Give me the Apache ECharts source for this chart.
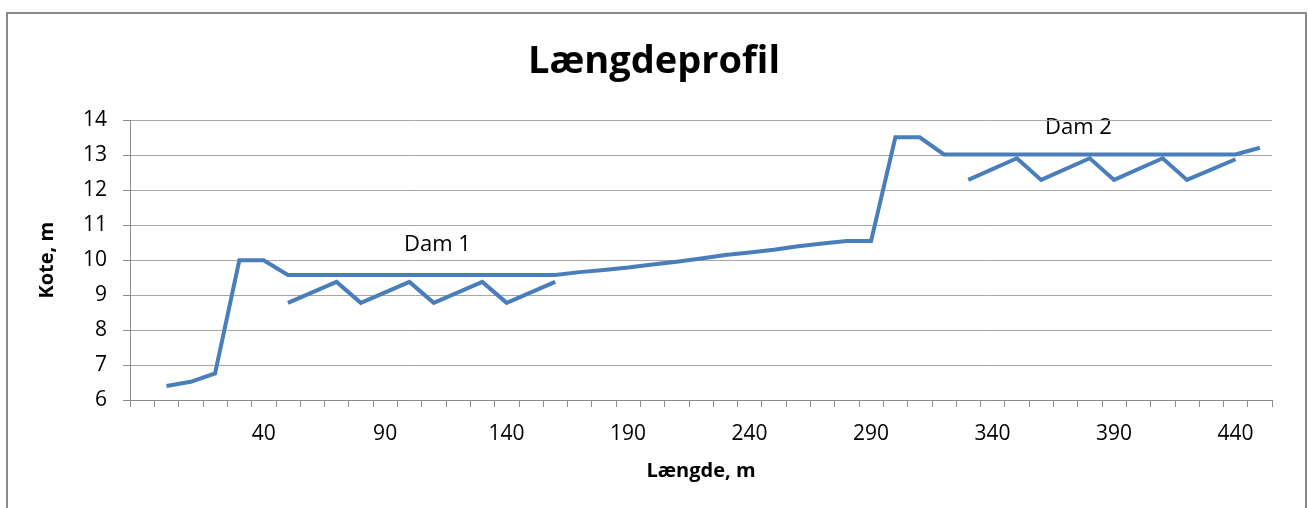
<!DOCTYPE html>
<html>
<head>
<meta charset="utf-8">
<script src="https://cdn.jsdelivr.net/npm/echarts@6/dist/echarts.min.js"></script>
<style>html,body{margin:0;padding:0;background:#fff;}#c{width:1308px;height:508px;}</style>
</head>
<body>
<div id="c"></div>
<script>
// Distance along profile (m); first category is an empty slot
var categories = ['', 0, 10, 20, 30, 40, 50, 60, 70, 80, 90, 100, 110, 120, 130, 140, 150, 160, 170, 180, 190, 200,
  210, 220, 230, 240, 250, 260, 270, 280, 290, 300, 310, 320, 330, 340, 350, 360, 370, 380, 390, 400, 410, 420, 430, 440, 450];

// Main profile (kote, m)
var profile = [null, 6.40, 6.52, 6.76, 10.0, 10.0, 9.58, 9.58, 9.58, 9.58, 9.58, 9.58, 9.58, 9.58, 9.58, 9.58, 9.58, 9.58,
  9.66, 9.72, 9.79, 9.88, 9.96, 10.05, 10.15, 10.22, 10.30, 10.40, 10.48, 10.55, 10.55,
  13.52, 13.52, 13.03, 13.03, 13.03, 13.03, 13.03, 13.03, 13.03, 13.03, 13.03, 13.03, 13.03, 13.03, 13.03, 13.22];

// Dam 1 zig-zag (vertices only)
var dam1 = [null, null, null, null, null, null, 8.78, null, 9.38, 8.78, null, 9.38, 8.78, null, 9.38, 8.78, null, 9.38,
  null, null, null, null, null, null, null, null, null, null, null, null, null,
  null, null, null, null, null, null, null, null, null, null, null, null, null, null, null, null];

// Dam 2 zig-zag (vertices only)
var dam2 = [null, null, null, null, null, null, null, null, null, null, null, null, null, null, null, null, null, null,
  null, null, null, null, null, null, null, null, null, null, null, null, null,
  null, null, null, 12.30, null, 12.92, 12.30, null, 12.92, 12.30, null, 12.92, 12.30, null, 12.89, null];

var yTicks = [6, 7, 8, 9, 10, 11, 12, 13, 14];
var annotations = ['Dam 1', 'Dam 2'];

var FONT = 'Open Sans';
var lineColor = '#4a7ebb';
var chart = echarts.init(document.getElementById('c'), null, {renderer: 'canvas'});
function lineSeries(name, data) {
  return {
    name: name, type: 'line', data: data, connectNulls: true, showSymbol: false, symbol: 'none',
    lineStyle: {color: lineColor, width: 4, join: 'miter'}, itemStyle: {color: lineColor}, animation: false
  };
}
chart.setOption({
  animation: false,
  backgroundColor: '#fff',
  title: {
    text: 'Længdeprofil', left: 'center', top: 38,
    textStyle: {fontFamily: FONT, fontWeight: 'bold', fontSize: 38, color: '#000'}
  },
  grid: {left: 130, right: 36, top: 120.5, bottom: 108, containLabel: false},
  xAxis: {
    type: 'category', data: categories, boundaryGap: true,
    name: 'Længde, m', nameLocation: 'middle', nameGap: 61,
    nameTextStyle: {fontFamily: FONT, fontWeight: 'bold', fontSize: 20, color: '#000'},
    axisLine: {lineStyle: {color: '#8c8c8c', width: 1}},
    axisTick: {show: true, interval: 0, length: 7, lineStyle: {color: '#8c8c8c'}},
    axisLabel: {interval: 4, fontFamily: FONT, fontSize: 21, color: '#000', margin: 24},
    splitLine: {show: false}
  },
  yAxis: {
    type: 'value', min: yTicks[0], max: yTicks[yTicks.length - 1], interval: 1,
    name: 'Kote, m', nameLocation: 'middle', nameGap: 73, nameRotate: 90,
    nameTextStyle: {fontFamily: FONT, fontWeight: 'bold', fontSize: 20, color: '#000'},
    axisLine: {show: true, lineStyle: {color: '#8c8c8c', width: 1}},
    axisTick: {show: true, length: 7, lineStyle: {color: '#8c8c8c'}},
    axisLabel: {fontFamily: FONT, fontSize: 21, color: '#000', margin: 23},
    splitLine: {show: true, lineStyle: {color: '#a6a6a6', width: 1}}
  },
  series: [lineSeries('Profil', profile), lineSeries('Dam 1', dam1), lineSeries('Dam 2', dam2)],
  graphic: [
    {type: 'rect', shape: {x: 7, y: 13, width: 1299, height: 520}, style: {fill: 'none', stroke: '#8a8a8a', lineWidth: 2}, silent: true},
    {type: 'text', left: 404, top: 234, style: {text: annotations[0], font: '22px "Open Sans"', fill: '#000'}},
    {type: 'text', left: 1045, top: 117, style: {text: annotations[1], font: '22px "Open Sans"', fill: '#000'}}
  ]
});
</script>
</body>
</html>
